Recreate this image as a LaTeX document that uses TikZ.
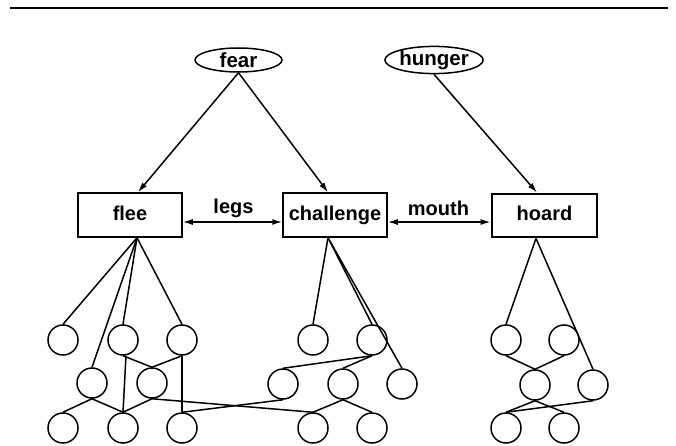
\documentclass[tikz,border=0pt]{standalone}
\usepackage{fontspec}
\setmainfont{Liberation Sans}
\usetikzlibrary{arrows.meta,shapes.geometric}
\begin{document}
\begin{tikzpicture}[x=1pt,y=-1pt,
  box/.style={draw,line width=1.5pt,minimum width=104pt,minimum height=44pt,inner sep=0pt,
    font=\fontsize{20}{22}\selectfont\bfseries,text height=14.4pt,text depth=4.2pt},
  oval/.style={draw,ellipse,line width=1.5pt,minimum width=87pt,minimum height=24pt,inner sep=0pt,
    font=\fontsize{20.5}{22}\selectfont\bfseries},
  lbl/.style={inner sep=0pt,anchor=base,font=\fontsize{20}{22}\selectfont\bfseries},
  circ/.style={draw,circle,minimum size=30pt,inner sep=0pt,line width=1.5pt},
  link/.style={line width=1.5pt},
  arr/.style={line width=1.5pt,-{Latex[length=10pt,width=6pt]}},
  darr/.style={line width=1.5pt,{Latex[length=10pt,width=6pt]}-{Latex[length=10pt,width=6pt]}}]
\fill[white] (0,0) rectangle (676,446);
\useasboundingbox (0,0) rectangle (676,446);
\draw[line width=2.5pt] (10,8) -- (668,8);
% drives
\node[oval] (fear) at (238.5,60) {fear};
\node[oval,minimum width=92pt] (hunger) at (434,60) {hunger};
% behaviours
\node[box] (flee) at (130,215) {flee};
\node[box] (chal) at (335,215) {challenge};
\node[box,line width=2.8pt,minimum width=105pt,minimum height=43pt] (hoard) at (544.5,215.5) {hoard};
\coordinate (fleeT) at ([xshift=8pt]flee.north);
\coordinate (chalT) at ([xshift=-7pt]chal.north);
\coordinate (hoardT) at ([xshift=-7.5pt]hoard.north);
\coordinate (fleeS) at ([xshift=7pt]flee.south);
\coordinate (chalS) at ([xshift=-7pt]chal.south);
\coordinate (hoardS) at ([xshift=-8.5pt]hoard.south);
\draw[arr] (fear.south) -- (fleeT);
\draw[arr] (fear.south) -- (chalT);
\draw[arr] (hunger.south) -- (hoardT);
\draw[darr] ([yshift=-7pt]flee.east) -- ([yshift=-7pt]chal.west);
\draw[darr] ([yshift=-7pt]chal.east) -- ([yshift=-6.5pt]hoard.west);
\node[lbl] (legs) at (233.5,213) {legs};
\node[lbl] (mouth) at (438.5,215) {mouth};
% flee network
\node[circ] (fa1) at (63,340) {};
\node[circ] (fa2) at (123,340) {};
\node[circ] (fa3) at (182,340) {};
\node[circ] (fb1) at (92,383) {};
\node[circ] (fb2) at (152,383) {};
\node[circ] (fc1) at (63,428) {};
\node[circ] (fc2) at (123,428) {};
\node[circ] (fc3) at (182,428) {};
% challenge network
\node[circ] (ca1) at (313,340) {};
\node[circ] (ca2) at (372,340) {};
\node[circ] (cb1) at (283,384) {};
\node[circ] (cb2) at (343,384) {};
\node[circ] (cb3) at (402,384) {};
\node[circ] (cc1) at (313,428) {};
\node[circ] (cc2) at (372,428) {};
% hoard network
\node[circ] (ha1) at (506,340) {};
\node[circ] (ha2) at (564,340) {};
\node[circ] (hb1) at (535,385) {};
\node[circ] (hb2) at (593,385) {};
\node[circ] (hc1) at (506,428) {};
\node[circ] (hc2) at (564,428) {};
% flee links
\draw[link] (fleeS) -- (fa1.north);
\draw[link] (fleeS) -- (fb1.north);
\draw[link] (fleeS) -- (fa2.north);
\draw[link] (fleeS) -- (fa3.north);
\draw[link] ([xshift=3pt]fa2.south) -- (fc2.north);
\draw[link] (fa2.south) -- (fb2.north);
\draw[link] (fa3.south) -- (fb2.north);
\draw[link] (fa3.south) -- (fc3.north);
\draw[link] (fb1.south) -- (fc1.north);
\draw[link] (fb1.south) -- (fc2.north);
\draw[link] (fb2.south) -- (fc2.north);
\draw[link] (fb2.south) -- (cc1.north);
\draw[link] (fc3.north) -- (cb1.south);
% challenge links
\draw[link] (chalS) -- (ca1.north);
\draw[link] (chalS) -- (ca2.north);
\draw[link] (chalS) -- (cb3.north);
\draw[link] (ca2.south) -- (cb1.north);
\draw[link] (ca2.south) -- (cb2.north);
\draw[link] (cb2.south) -- (cc1.north);
\draw[link] (cb2.south) -- (cc2.north);
% hoard links
\draw[link] (hoardS) -- (ha1.north);
\draw[link] (hoardS) -- (hb2.north);
\draw[link] (ha1.south) -- (hb1.north);
\draw[link] (ha2.south) -- (hb1.north);
\draw[link] (hb1.south) -- (hc1.north);
\draw[link] (hb1.south) -- (hc2.north);
\draw[link] (hb2.south) -- (hc1.north);
\end{tikzpicture}
\end{document}
